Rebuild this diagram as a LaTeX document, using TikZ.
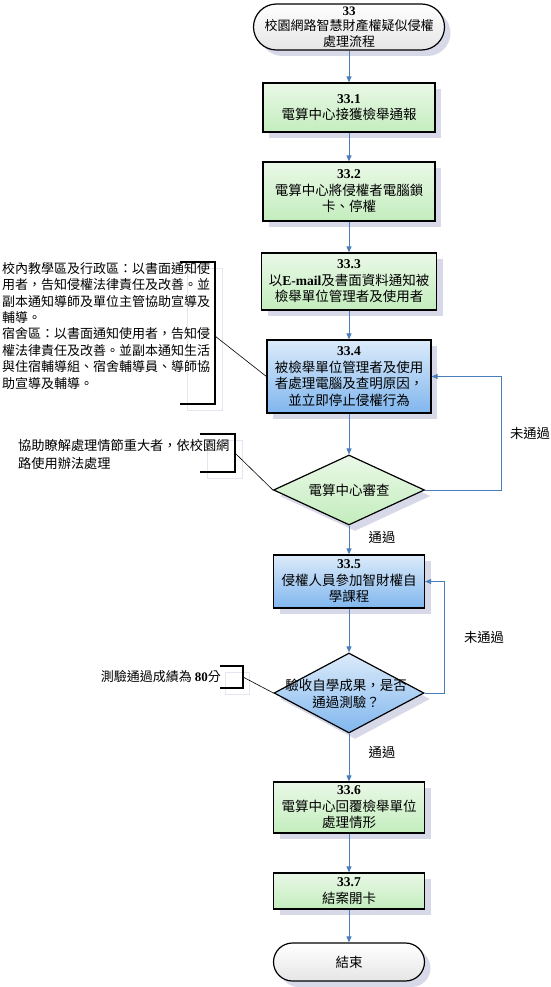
\documentclass[tikz,border=0pt]{standalone}
\usepackage{fontspec}
\setmainfont{Liberation Serif}
\newfontfamily\cjk[Script=CJK,Language=Chinese Traditional]{Noto Sans CJK TC}
\usetikzlibrary{shapes.geometric,shadows,arrows.meta}
\definecolor{arrc}{HTML}{4A7EBB}
\definecolor{shc}{HTML}{D8D9E8}
\definecolor{fnt}{HTML}{E4E5EF}
\definecolor{gtop}{HTML}{EAF8E7}
\definecolor{gbot}{HTML}{C3EDBD}
\definecolor{btop}{HTML}{DCEBFA}
\definecolor{bbot}{HTML}{80B6EE}
\newcommand\tnum[1]{{\rmfamily\bfseries #1}}
\begin{document}
\begin{tikzpicture}[x=1pt,y=-1pt,
  base/.style={draw=black, line width=1.2pt, font=\cjk\fontsize{13.5}{16.5}\selectfont, align=center, inner sep=0pt,
    drop shadow={shadow xshift=6pt,shadow yshift=-6pt,fill=shc,opacity=1}},
  gbox/.style={base, rectangle, top color=gtop, bottom color=gbot},
  bbox/.style={base, rectangle, top color=btop, bottom color=bbot},
  term/.style={base, rectangle, top color=white, bottom color=black!10},
  gdia/.style={base, diamond, top color=gtop, bottom color=gbot},
  bdia/.style={base, diamond, top color=btop, bottom color=bbot},
  dtext/.style={font=\cjk\fontsize{13.5}{16.5}\selectfont, align=center, inner sep=0pt},
  arr/.style={draw=arrc, line width=0.9pt, -{Triangle[width=5pt,length=6pt]}},
  note/.style={font=\cjk\fontsize{13}{16.4}\selectfont, align=left, inner sep=0pt},
  lbl/.style={font=\cjk\fontsize{13.3}{16}\selectfont, inner sep=0pt},
  brk/.style={draw=black, line width=1.1pt},
  lead/.style={draw=black, line width=0.6pt},
  faint/.style={draw=fnt, line width=0.7pt}
]
\useasboundingbox (0,0) rectangle (551,987);
\fill[white] (0,0) rectangle (551,987);

% main flow
\node[term, rounded corners=23pt, minimum width=191pt, minimum height=46pt, font=\cjk\fontsize{13}{15.3}\selectfont] (s) at (349,27)
  {\tnum{33}\\校園網路智慧財產權疑似侵權\\處理流程};
\node[gbox, minimum width=172pt, minimum height=49pt] (b1) at (349,107.5)
  {\tnum{33.1}\\電算中心接獲檢舉通報};
\node[gbox, minimum width=172pt, minimum height=59pt] (b2) at (349,191.5)
  {\tnum{33.2}\\電算中心將侵權者電腦鎖\\卡、停權};
\node[gbox, minimum width=175pt, minimum height=57pt] (b3) at (349,281.5)
  {\tnum{33.3}\\以\tnum{E-mail}及書面資料通知被\\檢舉單位管理者及使用者};
\node[bbox, minimum width=164pt, minimum height=73pt] (b4) at (349,376.5)
  {\tnum{33.4}\\被檢舉單位管理者及使用\\者處理電腦及查明原因，\\並立即停止侵權行為};
\node[gdia, minimum width=151pt, minimum height=70pt] (d1) at (349,490) {};
\node[dtext] (d1t) at (d1.center) {電算中心審查};
\node[bbox, minimum width=151pt, minimum height=53pt] (b5) at (349,581.5)
  {\tnum{33.5}\\侵權人員參加智財權自\\學課程};
\node[bdia, minimum width=150pt, minimum height=80pt] (d2) at (349,693) {};
\node[dtext] (d2t) at (346,694) {驗收自學成果，是否\\通過測驗？};
\node[gbox, minimum width=151pt, minimum height=51pt] (b6) at (349,807.5)
  {\tnum{33.6}\\電算中心回覆檢舉單位\\處理情形};
\node[gbox, minimum width=151pt, minimum height=36pt] (b7) at (349,891)
  {\tnum{33.7}\\結案開卡};
\node[term, rounded corners=19pt, minimum width=151pt, minimum height=38pt] (e) at (349,962) {結束};

\draw[arr] (s) -- (b1);
\draw[arr] (b1) -- (b2);
\draw[arr] (b2) -- (b3);
\draw[arr] (b3) -- (b4);
\draw[arr] (b4) -- (d1);
\draw[arr] (d1) -- (b5);
\draw[arr] (b5) -- (d2);
\draw[arr] (d2) -- (b6);
\draw[arr] (b6) -- (b7);
\draw[arr] (b7) -- (e);
\draw[arr] (d1.east) -- ++(76,0) |- (b4.east);
\draw[arr] (d2.east) -- ++(20,0) |- (b5.east);

\node[lbl] (n1) at (530,433) {未通過};
\node[lbl] (n2) at (484,637) {未通過};
\node[lbl] (p1) at (382,537) {通過};
\node[lbl] (p2) at (382,752) {通過};

% annotation 1
\draw[faint] (187,268) rectangle (222,410);
\node[note, anchor=north west] (a1) at (2,262)
  {校內教學區及行政區：以書面通知使\\用者，告知侵權法律責任及改善。並\\副本通知導師及單位主管協助宣導及\\輔導。\\宿舍區：以書面通知使用者，告知侵\\權法律責任及改善。並副本通知生活\\與住宿輔導組、宿舍輔導員、導師協\\助宣導及輔導。};
\coordinate (k1a) at (180,262);
\coordinate (k1b) at (215,262);
\coordinate (k1c) at (215,404);
\coordinate (k1d) at (180,404);
\coordinate (k1m) at (215,336);
\draw[brk] (k1a) -- (k1b) -- (k1c) -- (k1d);
\draw[lead] (k1m) -- (b4.west);

% annotation 2
\draw[faint] (207,440) rectangle (242,478);
\node[note, anchor=west, font=\cjk\fontsize{13.2}{18}\selectfont] (a2) at (18,454)
  {協助瞭解處理情節重大者，依校園網\\路使用辦法處理};
\coordinate (k2a) at (200,434);
\coordinate (k2b) at (235,434);
\coordinate (k2c) at (235,472);
\coordinate (k2d) at (200,472);
\coordinate (k2m) at (235,453);
\draw[brk] (k2a) -- (k2b) -- (k2c) -- (k2d);
\draw[lead] (k2m) -- (d1.west);

% annotation 3
\draw[faint] (225,672) rectangle (249,694);
\node[note, anchor=east] (a3) at (221,677) {測驗通過成績為 \tnum{80}分};
\coordinate (k3a) at (220,666);
\coordinate (k3b) at (243,666);
\coordinate (k3c) at (243,688);
\coordinate (k3d) at (220,688);
\coordinate (k3m) at (243,677);
\draw[brk] (k3a) -- (k3b) -- (k3c) -- (k3d);
\draw[lead] (k3m) -- (d2.west);
\end{tikzpicture}
\end{document}
